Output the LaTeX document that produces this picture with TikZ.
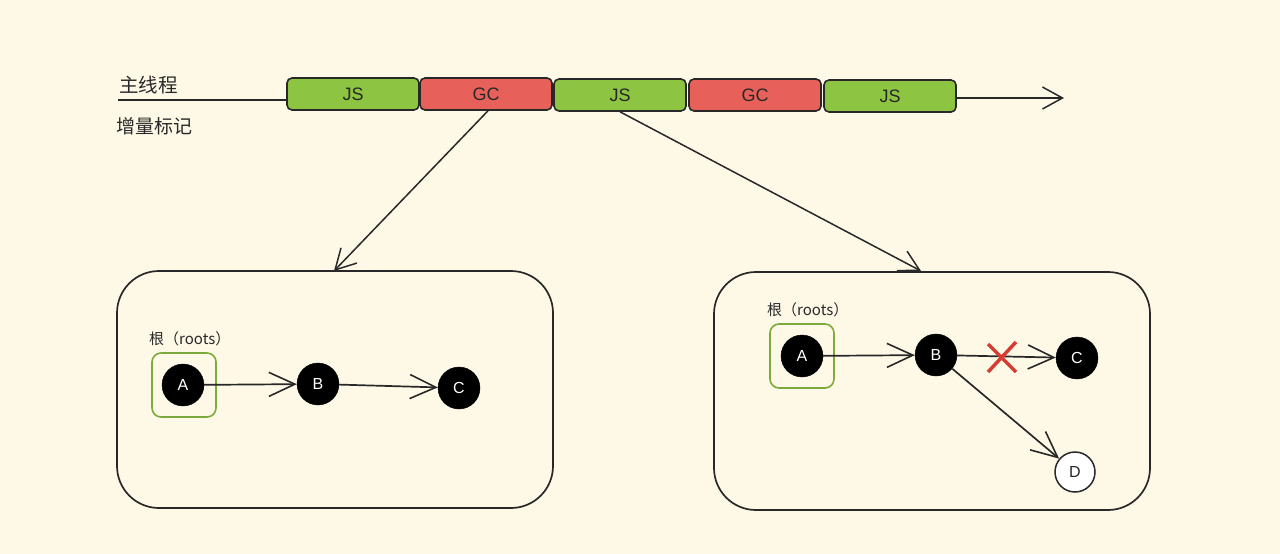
\documentclass[tikz,border=0pt]{standalone}
\usepackage{fontspec}
\setmainfont{Noto Sans CJK SC}
\newfontfamily\latinsf{Liberation Sans}
\usetikzlibrary{arrows.meta}
\definecolor{bgc}{RGB}{254,249,230}
\definecolor{jsg}{RGB}{141,196,66}
\definecolor{gcr}{RGB}{232,96,90}
\definecolor{ink}{RGB}{40,40,40}
\definecolor{rootg}{RGB}{122,170,60}
\definecolor{xred}{RGB}{214,60,50}
\tikzset{
  seg/.style={draw=ink, line width=1.6pt, rounded corners=5pt, minimum width=132pt, minimum height=32pt, inner sep=0pt, font=\latinsf\fontsize{18}{18}\selectfont, text=ink},
  jsbox/.style={seg, fill=jsg},
  gcbox/.style={seg, fill=gcr},
  region/.style={draw=ink, line width=1.7pt, rounded corners=42pt},
  obj/.style={circle, fill=black, draw=black, minimum size=42pt, inner sep=0pt, text=white, font=\latinsf\fontsize{16}{16}\selectfont},
  objw/.style={circle, fill=white, draw=ink, line width=1.5pt, minimum size=40pt, inner sep=0pt, text=ink, font=\latinsf\fontsize{16}{16}\selectfont},
  rootbox/.style={draw=rootg, line width=1.6pt, rounded corners=9pt, minimum size=64pt, inner sep=0pt},
  link/.style={draw=ink, line width=1.7pt, -{Straight Barb[length=26pt,width=24pt,line width=1.6pt]}},
  bigarr/.style={draw=ink, line width=1.5pt, -{Straight Barb[length=20pt,width=22pt,line width=1.5pt]}},
  lbl/.style={text=ink, inner sep=0pt, anchor=west},
}
\begin{document}
\begin{tikzpicture}[x=1pt,y=-1pt]
\fill[bgc] (0,0) rectangle (1280,554);
\useasboundingbox (0,0) rectangle (1280,554);
% timeline
\node[lbl, font=\fontsize{19.5}{19.5}\selectfont] (main) at (119,85) {主线程};
\node[lbl, font=\fontsize{19}{19}\selectfont] (incr) at (116,126) {增量标记};
\coordinate (tstart) at (118,100);
\node[jsbox] (js1) at (353,94) {JS};
\node[gcbox] (gc1) at (486,94) {GC};
\node[jsbox] (js2) at (620,95) {JS};
\node[gcbox] (gc2) at (755,95) {GC};
\node[jsbox] (js3) at (890,96) {JS};
\coordinate (tend) at (1064,98);
\draw[ink, line width=1.8pt] (tstart) -- (js1.west |- tstart);
\draw[bigarr] (js3.east |- tend) -- (tend);
% regions
\draw[region] (117,271) rectangle (553,508);
\draw[region] (714,272) rectangle (1150,510);
\coordinate (ltop) at (334,271);
\coordinate (rtop) at (921,271);
\draw[bigarr] ([xshift=2pt]gc1.south) -- (ltop);
\draw[bigarr] (js2.south) -- (rtop);
% left graph
\node[lbl, font=\fontsize{15}{15}\selectfont] (root1) at (149,339) {根（roots）};
\node[rootbox] (rb1) at (184,385) {};
\node[obj] (a1) at (183,385) {A};
\node[obj] (b1) at (318,384) {B};
\node[obj] (c1) at (459,388) {C};
\draw[link] (a1) -- (b1);
\draw[link] (b1) -- (c1);
% right graph
\node[lbl, font=\fontsize{15}{15}\selectfont] (root2) at (767,310) {根（roots）};
\node[rootbox] (rb2) at (802,356) {};
\node[obj] (a2) at (802,356) {A};
\node[obj] (b2) at (936,355) {B};
\node[obj] (c2) at (1077,358) {C};
\node[objw] (d2) at (1075,472) {D};
\draw[link] (a2) -- (b2);
\draw[link] (b2) -- (c2);
\draw[link] (b2) -- (d2);
\coordinate (xc) at (1002,358);
\draw[xred, line width=3.5pt] ([shift={(-14,-14)}]xc) -- ([shift={(14,14)}]xc)
  ([shift={(14,-16)}]xc) -- ([shift={(-14,14)}]xc);
\end{tikzpicture}
\end{document}
